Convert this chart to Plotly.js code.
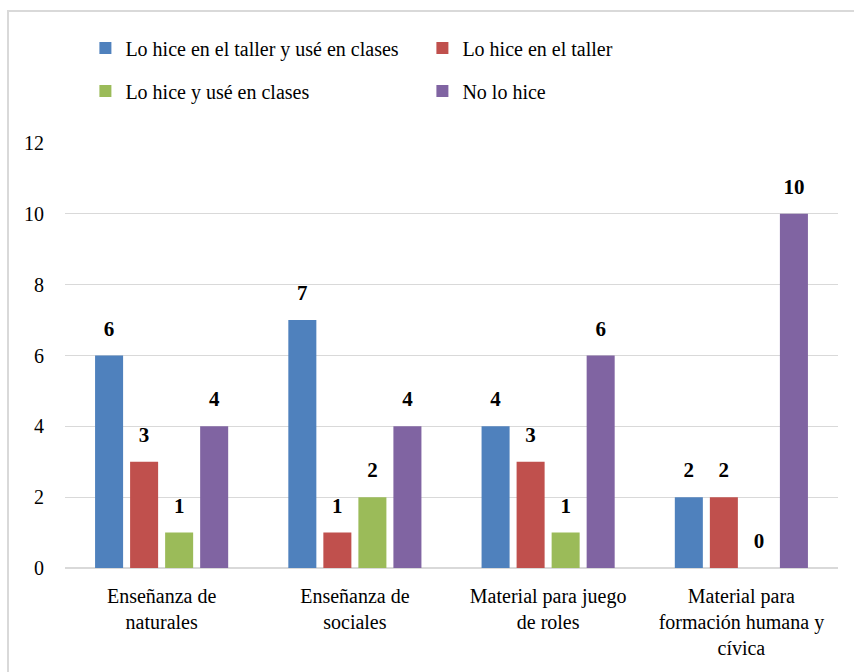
<!DOCTYPE html>
<html>
<head>
<meta charset="utf-8">
<script src="https://cdn.plot.ly/plotly-3.0.1.min.js"></script>
<style>
  html, body { margin: 0; padding: 0; background: #fff; }
  #wrap { position: relative; width: 854px; height: 672px; overflow: hidden; }
  #fontwarm { position: absolute; left: 400px; top: 300px; font-family: "Liberation Serif"; font-size: 12px; color: #fff; z-index: 0; }
  #chart { position: absolute; left: 0; top: 0; width: 854px; height: 672px; z-index: 1; }
  #frame { position: absolute; left: 7px; top: 10px; width: 870px; height: 700px; z-index: 2;
           border: 2px solid #d9d9d9; box-sizing: border-box; pointer-events: none; }
</style>
</head>
<body>
<div id="wrap">
  <div id="fontwarm">0</div>
  <div id="chart"></div>
  <div id="frame"></div>
</div>
<script>
const categories = [
  "Enseñanza de<br>naturales",
  "Enseñanza de<br>sociales",
  "Material para juego<br>de roles",
  "Material para<br>formación humana y<br>cívica"
];
const seriesNames = [
  "Lo hice en el taller y usé en clases",
  "Lo hice en el taller",
  "Lo hice y usé en clases",
  "No lo hice"
];
const tallerYClases = [6, 7, 4, 2];
const soloTaller    = [3, 1, 3, 2];
const hiceYClases   = [1, 2, 1, 0];
const noLoHice      = [4, 4, 6, 10];
const yTicks = [0, 2, 4, 6, 8, 10, 12];

const seriesValues = [tallerYClases, soloTaller, hiceYClases, noLoHice];
const colors = ["#4F81BD", "#C0504D", "#9BBB59", "#8064A2"];
const FONT = "Liberation Serif";

const traces = [];
seriesValues.forEach((vals, i) => {
  traces.push({
    type: "bar",
    name: seriesNames[i],
    x: categories,
    y: vals,
    offsetgroup: "g" + i,
    marker: { color: colors[i] },
    legend: i < 2 ? "legend" : "legend2",
    hoverinfo: "skip"
  });
});
seriesValues.forEach((vals, i) => {
  traces.push({
    type: "scatter",
    mode: "markers+text",
    x: categories,
    y: vals,
    offsetgroup: "g" + i,
    text: vals.map(v => "<b>" + v + "</b>"),
    textposition: "top center",
    textfont: { family: FONT, size: 21, color: "#000" },
    marker: { size: 22, opacity: 0 },
    showlegend: false,
    hoverinfo: "skip",
    cliponaxis: false
  });
});

const legendCommon = {
  orientation: "h",
  xref: "container", yref: "container",
  x: 0.1, xanchor: "left",
  yanchor: "middle",
  entrywidth: 292, entrywidthmode: "pixels",
  font: { family: FONT, size: 20, color: "#000" },
  bgcolor: "rgba(0,0,0,0)",
  itemclick: false, itemdoubleclick: false
};

const layout = {
  width: 854,
  height: 672,
  margin: { l: 65, r: 16, t: 143, b: 104, autoexpand: false },
  paper_bgcolor: "#ffffff",
  plot_bgcolor: "#ffffff",
  font: { family: FONT, size: 20, color: "#000" },
  barmode: "group",
  bargap: 0.275,
  bargroupgap: 0.2,
  scattermode: "group",
  scattergap: 0.275,
  showlegend: true,
  legend: Object.assign({}, legendCommon, { y: 1 - 48 / 672 }),
  legend2: Object.assign({}, legendCommon, { y: 1 - 91 / 672 }),
  xaxis: {
    type: "category",
    showgrid: false, showline: false, zeroline: false, ticks: "",
    ticklabelstandoff: 14,
    tickfont: { family: FONT, size: 20, color: "#000" },
    fixedrange: true
  },
  yaxis: {
    range: [0, 12],
    tickvals: yTicks,
    ticktext: yTicks.map(String),
    showgrid: true, gridcolor: "#d9d9d9", gridwidth: 1.3,
    zeroline: true, zerolinecolor: "#d9d9d9", zerolinewidth: 2,
    showline: false, ticks: "",
    ticklabelstandoff: 20,
    tickfont: { family: FONT, size: 20, color: "#000" },
    fixedrange: true
  }
};

Plotly.newPlot("chart", traces, layout, { displayModeBar: false });
</script>
</body>
</html>
